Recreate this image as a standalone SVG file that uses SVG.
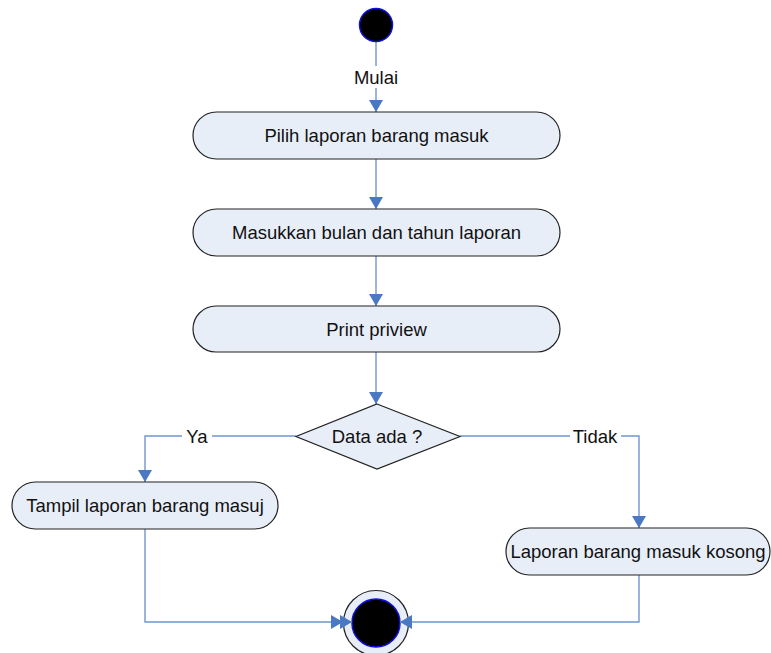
<svg xmlns="http://www.w3.org/2000/svg" width="771" height="653" viewBox="0 0 771 653">
<style>
.act{fill:#e8eef8;stroke:#222;stroke-width:1.2}
.t{font-family:"Liberation Sans",Arial,sans-serif;font-size:18.5px;fill:#111;text-anchor:middle;dominant-baseline:central}
.c{fill:none;stroke:#6f97d2;stroke-width:1.4}
.bg{fill:#fff}
</style>
<defs>
<marker id="ah2" viewBox="0 0 12 14" refX="12" refY="7" markerWidth="12" markerHeight="14" markerUnits="userSpaceOnUse" orient="auto">
<path d="M0,0 L12,7 L0,14 z" fill="#4a78c2"/>
</marker>
</defs>
<rect width="771" height="653" fill="#fff"/>
<g id="end">
<circle cx="376" cy="623" r="32.5" fill="#e8eef8" stroke="#222" stroke-width="1.2"/>
<circle cx="376" cy="623" r="24" fill="#000" stroke="#1010e0" stroke-width="1.5"/>
</g>
<g id="connectors">
<path class="c" d="M376,42 V112" marker-end="url(#ah2)"/>
<path class="c" d="M376,159 V209" marker-end="url(#ah2)"/>
<path class="c" d="M376,256 V306" marker-end="url(#ah2)"/>
<path class="c" d="M376,352 V404" marker-end="url(#ah2)"/>
<path class="c" d="M296,436 H145 V482" marker-end="url(#ah2)"/>
<path class="c" d="M460,436 H639 V528" marker-end="url(#ah2)"/>
<path class="c" d="M145,529 V622 H343" marker-end="url(#ah2)"/>
<path class="c" d="M639,575 V622 H409"/>
<path class="c" d="M409,622 H400" marker-end="url(#ah2)"/>
<path class="c" d="M343,622 H352" marker-end="url(#ah2)"/>
<rect class="bg" x="352" y="66" width="48" height="22"/>
<text class="t" x="376" y="77">Mulai</text>
<rect class="bg" x="182" y="426" width="30" height="20"/>
<text class="t" x="197" y="436">Ya</text>
<rect class="bg" x="570" y="426" width="51" height="20"/>
<text class="t" x="595" y="436">Tidak</text>
</g>
<g id="start">
<circle cx="376" cy="25" r="16.5" fill="#000" stroke="#1010e0" stroke-width="1.5"/>
</g>
<g id="n1">
<rect class="act" x="193" y="112" width="367" height="47" rx="23.5"/>
<text class="t" x="376.5" y="135.5">Pilih laporan barang masuk</text>
</g>
<g id="n2">
<rect class="act" x="193" y="209" width="367" height="47" rx="23.5"/>
<text class="t" x="376.5" y="232.5">Masukkan bulan dan tahun laporan</text>
</g>
<g id="n3">
<rect class="act" x="193" y="306" width="367" height="46" rx="23"/>
<text class="t" x="376.5" y="329">Print priview</text>
</g>
<g id="decision">
<polygon class="act" points="377,404 460,436.5 377,469 296,436.5"/>
<text class="t" x="377" y="436.5">Data ada ?</text>
</g>
<g id="n4">
<rect class="act" x="12" y="482" width="266" height="47" rx="23.5"/>
<text class="t" x="145" y="505.5">Tampil laporan barang masuj</text>
</g>
<g id="n5">
<rect class="act" x="506" y="528" width="264" height="47" rx="23.5"/>
<text class="t" x="638" y="551.5">Laporan barang masuk kosong</text>
</g>
</svg>
